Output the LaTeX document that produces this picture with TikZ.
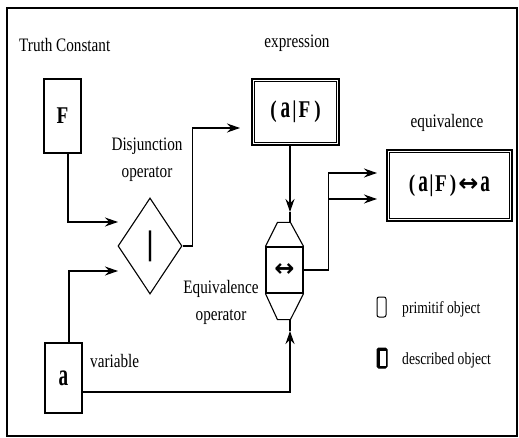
\documentclass[tikz,border=0pt]{standalone}
\usepackage{fontspec}
\usepackage{graphicx}
\setmainfont{Liberation Serif}
\newfontfamily\labfont{Liberation Serif}[FakeStretch=0.8]
\newfontfamily\symfont{DejaVu Sans}
\usetikzlibrary{arrows.meta,shapes.geometric}
\newcommand\talla[1]{\scalebox{1}[1.3]{#1}}
\newcommand\boxtxt{\fontsize{24}{28}\selectfont\labfont\bfseries}
\newcommand\lrarr{{\symfont\bfseries ↔}}
\begin{document}
\begin{tikzpicture}[x=1pt,y=-1pt,
  lab/.style={font=\fontsize{19}{27}\selectfont\labfont, inner sep=0pt},
  leg/.style={font=\fontsize{17}{20}\selectfont\labfont, inner sep=0pt, anchor=base west},
  arr/.style={-{Stealth[length=13pt,width=9pt]}, line width=1.1pt},
  ln/.style={line width=1.1pt},
  prim/.style={draw, line width=1.3pt, inner sep=0pt},
  desc/.style={draw, line width=1.8pt, inner sep=0pt}]
\useasboundingbox (0,0) rectangle (519,438);
\draw[line width=1.2pt] (7,8) rectangle (517,436);
% labels
\node[lab, anchor=base west] (tc) at (19,52) {Truth Constant};
\node[lab, anchor=base] (ex) at (297,48) {expression};
\node[lab, anchor=base] (eq) at (447,128) {equivalence};
\node[lab, align=center] (dj) at (147,160) {Disjunction\\operator};
\node[lab, align=center] (eo) at (221,302) {Equivalence\\operator};
\node[lab, anchor=base west] (va) at (90,367) {variable};
% boxes
\node[prim, minimum width=37pt, minimum height=74pt] (F) at (62.5,116) {\boxtxt F};
\node[prim, minimum width=37pt, minimum height=70pt] (A) at (63.5,378) {\boxtxt\talla{a}};
\node[desc, minimum width=87pt, minimum height=66pt] (E) at (295.5,112)
  {\boxtxt(\hspace{4pt}\talla{a}\hspace{2pt}|\hspace{2pt}F\hspace{4pt})};
\draw[line width=0.7pt] ([shift={(3.5pt,-3.5pt)}]E.north west) rectangle ([shift={(-3.5pt,3.5pt)}]E.south east);
\node[desc, minimum width=125pt, minimum height=71pt] (Q) at (449.5,185.5)
  {\boxtxt(\hspace{3pt}\talla{a}\hspace{1.5pt}|\hspace{1.5pt}F\hspace{3pt})\hspace{2pt}\lrarr\hspace{2pt}\talla{a}};
\draw[line width=0.7pt] ([shift={(3.5pt,-3.5pt)}]Q.north west) rectangle ([shift={(-3.5pt,3.5pt)}]Q.south east);
% disjunction operator
\node[draw, diamond, line width=1.1pt, inner sep=0pt, minimum width=64pt, minimum height=96pt] (D) at (150,246)
  {\fontsize{34}{34}\selectfont\bfseries|};
% equivalence operator (hexagon)
\node[draw, line width=1.1pt, inner sep=0pt, minimum width=37pt, minimum height=46pt] (H) at (284.5,270)
  {\fontsize{24}{26}\selectfont\lrarr};
\draw[line width=1.1pt] (H.north west) -- ++(12,-24) -- ++(13,0) -- (H.north east);
\draw[line width=1.1pt] (H.south west) -- ++(12,26) -- ++(13,0) -- (H.south east);
\coordinate (Htop) at (290,223);
\coordinate (Hbot) at (290,319);
% connectors
\coordinate (fin) at (118,222);
\coordinate (ain) at (118,271);
\coordinate (ein) at (240,128);
\coordinate (etip) at (290,212);
\coordinate (atip) at (290,331);
\coordinate (q1) at (377,173);
\coordinate (q2) at (377,199);
\coordinate (br) at (328,199);
\draw[arr] ([xshift=5.5pt]F.south) |- (fin);
\draw[arr] ([xshift=5.5pt]A.north) |- (ain);
\draw[arr] (D.east) -- ++(10,0) |- (ein);
\draw[arr] (E.south -| etip) -- (etip);
\draw[ln] (etip) -- (Htop);
\draw[arr] ([yshift=-14pt]A.east) -| (atip);
\draw[ln] (atip) -- (Hbot);
\draw[arr] (H.east) -- ++(25,0) |- (q1);
\draw[arr] (br) -- (q2);
% legend
\node[draw, line width=1pt, rounded corners=2pt, minimum width=9pt, minimum height=20pt, inner sep=0pt] (LP) at (381.5,307) {};
\node[draw, line width=1pt, fill=black, rounded corners=1.5pt, minimum width=10pt, minimum height=20pt, inner sep=0pt] (LD) at (382,358) {};
\fill[white] ([shift={(3pt,-3pt)}]LD.north west) rectangle ([shift={(-2pt,3pt)}]LD.south east);
\node[leg] (lpt) at (402,313) {primitif object};
\node[leg] (ldt) at (402,364) {described object};
\end{tikzpicture}
\end{document}
